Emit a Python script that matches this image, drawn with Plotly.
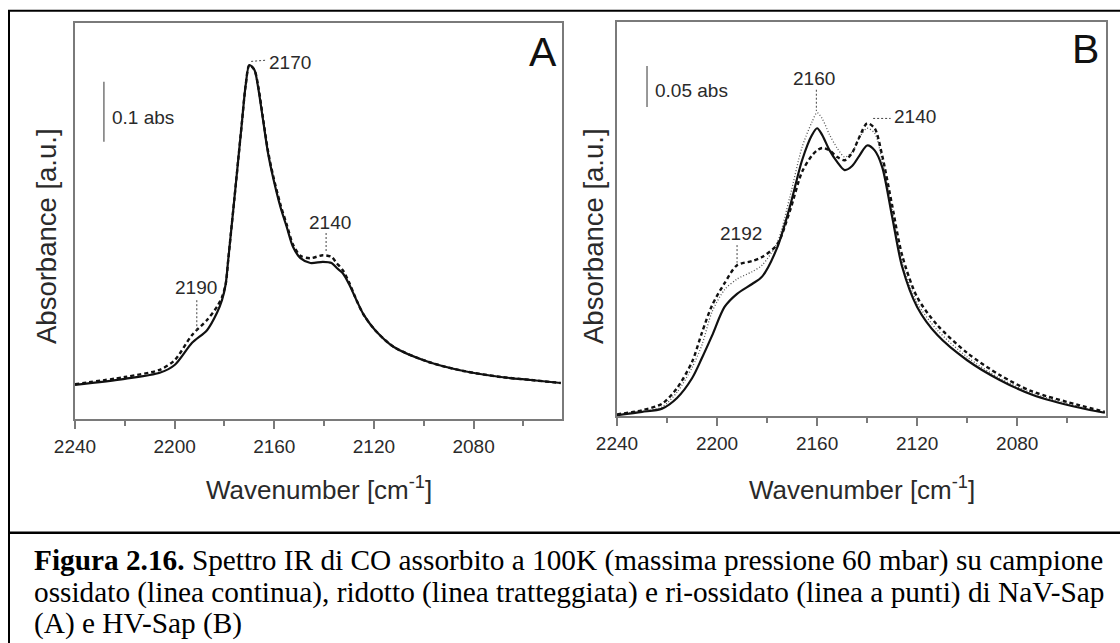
import plotly.graph_objects as go

# ---------------- data ----------------
# Panel A: NaV-Sap, wavenumber (cm-1) and absorbance
a_wn = [2240, 2220, 2206, 2200, 2193, 2187, 2183, 2181, 2179.5, 2178.5,
        2177.5, 2176, 2174.5, 2173, 2171.5, 2170, 2168, 2166.5, 2164.5, 2162.5,
        2160.5, 2157.5, 2155, 2152.5, 2149.5, 2145.5, 2140.5, 2137, 2135, 2132.5,
        2130, 2127, 2124, 2119.5, 2112, 2098, 2084, 2069, 2057, 2045]
a_oxidised = [0.057, 0.067, 0.077, 0.090, 0.127, 0.148, 0.177, 0.198, 0.225, 0.265,
              0.306, 0.368, 0.431, 0.494, 0.556, 0.590, 0.582, 0.553, 0.498, 0.443,
              0.403, 0.353, 0.320, 0.287, 0.268, 0.260, 0.262, 0.260, 0.252, 0.243,
              0.225, 0.198, 0.173, 0.148, 0.120, 0.095, 0.080, 0.070, 0.065, 0.060]
a_reduced = [0.058, 0.070, 0.082, 0.098, 0.140, 0.165, 0.187, 0.203, 0.225, 0.265,
             0.306, 0.368, 0.431, 0.494, 0.556, 0.590, 0.582, 0.556, 0.501, 0.446,
             0.406, 0.357, 0.324, 0.291, 0.272, 0.268, 0.273, 0.270, 0.260, 0.248,
             0.228, 0.198, 0.173, 0.148, 0.120, 0.095, 0.080, 0.070, 0.065, 0.060]

# Panel B: HV-Sap
b_wn = [2240, 2230, 2222, 2216, 2210, 2206, 2202, 2197, 2192, 2186,
        2182, 2176, 2171, 2166, 2162, 2160, 2158, 2155, 2152, 2149,
        2146, 2143, 2140, 2137, 2134, 2130, 2126, 2120, 2112, 2100,
        2087, 2074, 2055, 2045]
b_oxidised = [0.001, 0.005, 0.009, 0.022, 0.046, 0.071, 0.098, 0.133, 0.149, 0.161,
              0.170, 0.205, 0.254, 0.312, 0.343, 0.351, 0.343, 0.324, 0.310, 0.300,
              0.305, 0.318, 0.330, 0.324, 0.304, 0.243, 0.182, 0.133, 0.099, 0.068,
              0.044, 0.026, 0.010, 0.004]
b_reduced = [0.002, 0.007, 0.015, 0.034, 0.066, 0.102, 0.135, 0.162, 0.184, 0.189,
             0.194, 0.209, 0.249, 0.298, 0.318, 0.324, 0.327, 0.324, 0.316, 0.312,
             0.321, 0.341, 0.357, 0.351, 0.318, 0.257, 0.196, 0.145, 0.111, 0.077,
             0.050, 0.030, 0.013, 0.005]
b_reoxidised = [0.001, 0.006, 0.011, 0.029, 0.059, 0.087, 0.127, 0.154, 0.167, 0.176,
                0.184, 0.211, 0.266, 0.328, 0.359, 0.370, 0.363, 0.343, 0.327, 0.316,
                0.322, 0.340, 0.351, 0.345, 0.312, 0.251, 0.188, 0.138, 0.105, 0.072,
                0.046, 0.028, 0.011, 0.004]

tick_vals = [2240, 2200, 2160, 2120, 2080]
tick_text = ["2240", "2200", "2160", "2120", "2080"]

# peak labels: (panel, label, x, y, leader x0, y0, x1, y1, anchor)
peak_labels = [
    ("A", "2170", 2162.8, 0.595, 2169.3, 0.596, 2163.3, 0.598, "left"),
    ("A", "2140", 2137.8, 0.328, 2139.2, 0.310, 2139.2, 0.277, "center"),
    ("A", "2190", 2191.4, 0.220, 2191.1, 0.198, 2191.1, 0.145, "center"),
    ("B", "2160", 2161.2, 0.412, 2160.3, 0.398, 2160.3, 0.372, "center"),
    ("B", "2140", 2130.0, 0.365, 2137.6, 0.363, 2130.6, 0.363, "left"),
    ("B", "2192", 2190.4, 0.223, 2192.0, 0.2085, 2192.0, 0.187, "center"),
]
# absorbance scale bars: (panel, text, x, y0, height)
scale_bars = [("A", "0.1 abs", 2228.4, 0.462, 0.1),
              ("B", "0.05 abs", 2228.0, 0.377, 0.05)]

caption_lines = [
    "<b>Figura 2.16.</b> Spettro IR di CO assorbito a 100K (massima pressione 60 mbar) su campione",
    "ossidato (linea continua), ridotto (linea tratteggiata) e ri-ossidato (linea a punti) di NaV-Sap",
    "(A) e HV-Sap (B)",
]

# ---------------- figure ----------------
W, H = 1120, 643
SANS = "Liberation Sans, Arial, sans-serif"
SERIF = "Liberation Serif, Times New Roman, serif"
TXT = "#2a2a2a"
FRAME = "#7a7a7a"


def px(x):
    return x / W


def py(y):
    return 1 - y / H


fig = go.Figure()

solid = dict(color="#111111", width=2.2)
dashed = dict(color="#111111", width=2.4, dash="4px,3px")
dotted = dict(color="#555555", width=1.3, dash="1px,2px")

fig.add_trace(go.Scatter(x=a_wn, y=a_oxidised, mode="lines", line=dict(**solid, shape="spline", smoothing=0.8),
                         xaxis="x", yaxis="y", showlegend=False))
fig.add_trace(go.Scatter(x=a_wn, y=a_reduced, mode="lines", line=dict(**dashed, shape="spline", smoothing=0.8),
                         xaxis="x", yaxis="y", showlegend=False))
fig.add_trace(go.Scatter(x=b_wn, y=b_reoxidised, mode="lines", line=dict(**dotted, shape="spline", smoothing=0.8),
                         xaxis="x2", yaxis="y2", showlegend=False))
fig.add_trace(go.Scatter(x=b_wn, y=b_oxidised, mode="lines", line=dict(**solid, shape="spline", smoothing=0.8),
                         xaxis="x2", yaxis="y2", showlegend=False))
fig.add_trace(go.Scatter(x=b_wn, y=b_reduced, mode="lines", line=dict(**dashed, shape="spline", smoothing=0.8),
                         xaxis="x2", yaxis="y2", showlegend=False))

xaxis_common = dict(
    range=[2240, 2044.5], showgrid=False, zeroline=False, automargin=False,
    showline=True, linecolor=FRAME, linewidth=2, mirror=True,
    ticks="outside", ticklen=8, tickwidth=1.5, tickcolor=FRAME,
    tickvals=tick_vals, ticktext=tick_text, ticklabelstandoff=1,
    tickfont=dict(family=SANS, size=19, color=TXT),
    minor=dict(dtick=20, tick0=2240, ticks="outside", ticklen=5, tickwidth=1.5, tickcolor=FRAME),
)
yaxis_common = dict(
    showgrid=False, zeroline=False, showticklabels=False, ticks="", automargin=False,
    showline=True, linecolor=FRAME, linewidth=2, mirror=True,
)

fig.update_layout(
    width=W, height=H, margin=dict(l=0, r=0, t=0, b=0, pad=0, autoexpand=False),
    paper_bgcolor="white", plot_bgcolor="white",
    xaxis=dict(domain=[px(75), px(562)], anchor="y", **xaxis_common),
    yaxis=dict(domain=[py(419), py(22.7)], range=[0, 0.6605], anchor="x", **yaxis_common),
    xaxis2=dict(domain=[px(617), px(1106)], anchor="y2", **xaxis_common),
    yaxis2=dict(domain=[py(416), py(21.7)], range=[0, 0.481], anchor="x2", **yaxis_common),
)

ref = {"A": ("x", "y"), "B": ("x2", "y2")}
shapes = []
annotations = []

for panel, text, x, y, lx0, ly0, lx1, ly1, anchor in peak_labels:
    xr, yr = ref[panel]
    shapes.append(dict(type="line", xref=xr, yref=yr, x0=lx0, y0=ly0, x1=lx1, y1=ly1,
                       line=dict(color="#444444", width=1, dash="2px,2px")))
    annotations.append(dict(xref=xr, yref=yr, x=x, y=y, text=text, showarrow=False,
                            xanchor=anchor, yanchor="middle",
                            font=dict(family=SANS, size=19, color=TXT)))

for panel, text, x, y0, h in scale_bars:
    xr, yr = ref[panel]
    shapes.append(dict(type="line", xref=xr, yref=yr, x0=x, y0=y0, x1=x, y1=y0 + h,
                       line=dict(color="#777777", width=1.5)))
    annotations.append(dict(xref=xr, yref=yr, x=x - 2.4, y=y0 + h * 0.41, text=text, showarrow=False,
                            xanchor="left", yanchor="middle",
                            font=dict(family=SANS, size=19, color=TXT)))

# panel letters
annotations.append(dict(xref="x domain", yref="y domain", x=0.962, y=0.925, text="A", showarrow=False,
                        xanchor="center", yanchor="middle", font=dict(family=SANS, size=41, color="#111111")))
annotations.append(dict(xref="x2 domain", yref="y2 domain", x=0.959, y=0.931, text="B", showarrow=False,
                        xanchor="center", yanchor="middle", font=dict(family=SANS, size=41, color="#111111")))

# axis titles
for cx in (46, 593):
    annotations.append(dict(xref="paper", yref="paper", x=px(cx), y=py(236), text="Absorbance [a.u.]",
                            textangle=-90, showarrow=False, xanchor="center", yanchor="middle",
                            font=dict(family=SANS, size=27.5, color=TXT)))
for cx in (318.5, 861.5):
    annotations.append(dict(xref="paper", yref="paper", x=px(cx), y=py(488),
                            text="Wavenumber [cm<sup>-1</sup>]", showarrow=False,
                            xanchor="center", yanchor="middle",
                            font=dict(family=SANS, size=26, color=TXT)))

# caption
for text, cy in zip(caption_lines, (560, 592, 623)):
    annotations.append(dict(xref="paper", yref="paper", x=px(32), y=py(cy), text=text, showarrow=False,
                            xanchor="left", yanchor="middle",
                            font=dict(family=SERIF, size=29.3, color="#000000")))

# page frame and caption rule
shapes.append(dict(type="line", xref="paper", yref="paper", x0=px(8), x1=1, y0=py(10.7), y1=py(10.7),
                   line=dict(color="black", width=2)))
shapes.append(dict(type="line", xref="paper", yref="paper", x0=px(9), x1=px(9), y0=py(10), y1=0,
                   line=dict(color="black", width=2)))
shapes.append(dict(type="line", xref="paper", yref="paper", x0=px(8), x1=1, y0=py(532.7), y1=py(532.7),
                   line=dict(color="black", width=2.5)))

fig.update_layout(shapes=shapes, annotations=annotations)

fig.write_html("out.html")
